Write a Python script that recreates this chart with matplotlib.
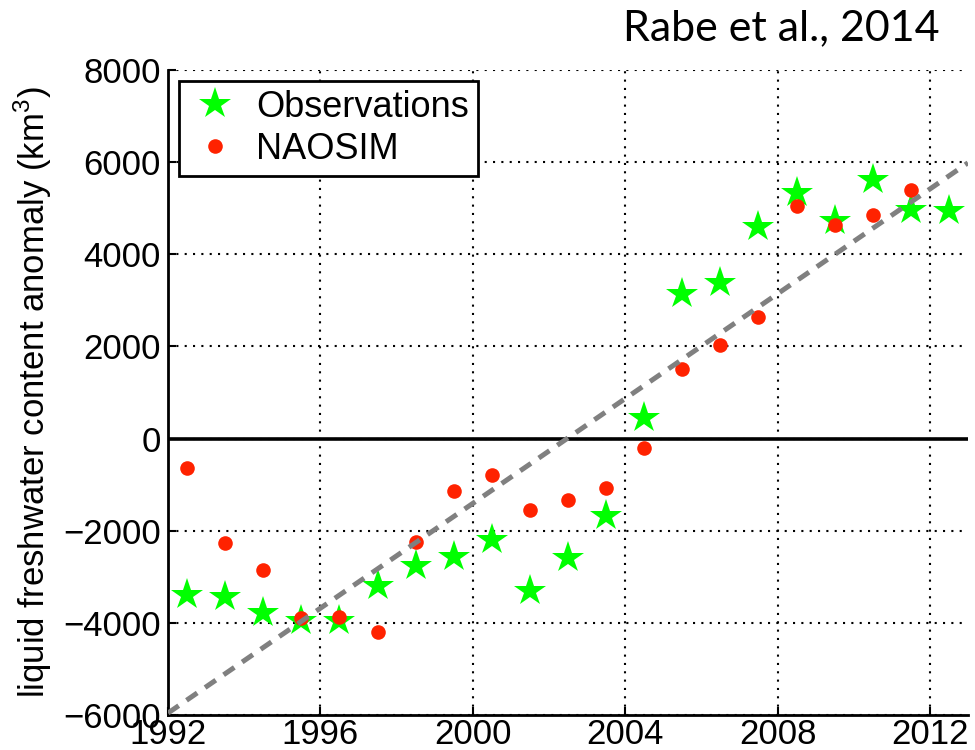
import numpy as np
import matplotlib
matplotlib.use("Agg")
import matplotlib.pyplot as plt

plt.rcParams['font.family'] = ['Liberation Sans', 'DejaVu Sans']
plt.rcParams['mathtext.fontset'] = 'custom'
plt.rcParams['mathtext.rm'] = 'Liberation Sans'

# yearly freshwater content anomalies (km^3), mid-year values
obs_years = [1992.5, 1993.5, 1994.5, 1995.5, 1996.5, 1997.5, 1998.5,
             1999.5, 2000.5, 2001.5, 2002.5, 2003.5, 2004.5, 2005.5,
             2006.5, 2007.5, 2008.5, 2009.5, 2010.5, 2011.5, 2012.5]
obs_values = [-3390, -3430, -3780, -3950, -3950, -3210, -2770,
              -2580, -2200, -3300, -2590, -1680, 455, 3130,
              3380, 4590, 5330, 4720, 5620, 4950, 4935]

model_years = [1992.5, 1993.5, 1994.5, 1995.5, 1996.5, 1997.5, 1998.5,
               1999.5, 2000.5, 2001.5, 2002.5, 2003.5, 2004.5, 2005.5,
               2006.5, 2007.5, 2008.5, 2009.5, 2010.5, 2011.5]
model_values = [-650, -2275, -2845, -3900, -3865, -4190, -2255,
                -1135, -790, -1545, -1335, -1070, -200, 1505,
                2025, 2645, 5055, 4645, 4850, 5405]

xticks = [1992, 1996, 2000, 2004, 2008, 2012]
yticks = [-6000, -4000, -2000, 0, 2000, 4000, 6000, 8000]

fig = plt.figure(figsize=(9.75, 7.5), dpi=100)
ax = fig.add_axes([0.1723, 0.0467, 0.8205, 0.86])

ax.set_xlim(1992, 2013)
ax.set_ylim(-6000, 8000)

ax.grid(True, color='black', linestyle=(0, (1, 3)), linewidth=1.5)
ax.set_axisbelow(True)

ax.axhline(0, color='black', linewidth=2.6, zorder=2)

ax.plot(obs_years, obs_values, linestyle='none', marker='*', markersize=24,
        color='#00ff00', markeredgewidth=0, label='Observations', zorder=3)
ax.plot(model_years, model_values, linestyle='none', marker='o', markersize=10.5,
        color='#ff2200', markeredgewidth=0, label='NAOSIM', zorder=4)

# linear trend of the observations
slope, intercept = np.polyfit(obs_years, obs_values, 1)
trend_x = np.array(ax.get_xlim())
ax.plot(trend_x, slope * trend_x + intercept, color='#808080', linewidth=3.6,
        linestyle=(0, (2.6, 1.9)), dash_capstyle='butt', zorder=5)

ax.set_xticks(xticks)
ax.set_yticks(yticks)
ax.set_yticklabels(['\u22126000', '\u22124000', '\u22122000', '0', '2000', '4000', '6000', '8000'])
ax.tick_params(direction='in', length=6, width=1.5, labelsize=25, pad=5)
ax.tick_params(axis='x', pad=2)

for side in ['top', 'right']:
    ax.spines[side].set_visible(False)
for side in ['left', 'bottom']:
    ax.spines[side].set_linewidth(2)

ax.set_ylabel(r'liquid freshwater content anomaly (km$^{3}$)', fontsize=25, labelpad=7)

leg = ax.legend(loc='upper left', fontsize=26, frameon=True, fancybox=False,
                borderaxespad=0.3, handletextpad=0.4, borderpad=0.25,
                labelspacing=0.2, handlelength=1.5)
leg.get_frame().set_edgecolor('black')
leg.get_frame().set_linewidth(2)
leg.get_frame().set_alpha(1)

fig.text(0.964, 0.962, 'Rabe et al., 2014', ha='right', va='center',
         fontsize=31, family=['Lato', 'DejaVu Sans'])

fig.savefig('out.png', dpi=100)
